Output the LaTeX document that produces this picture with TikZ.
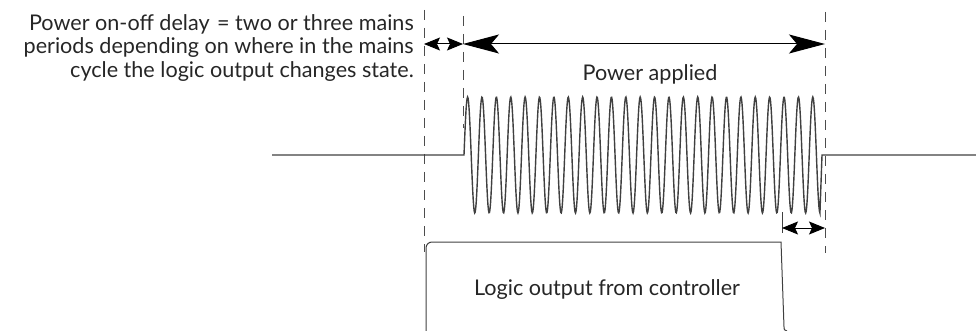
\documentclass[tikz,border=0pt]{standalone}
\usepackage{fontspec}
\setmainfont{Lato}
\usetikzlibrary{arrows.meta}

\begin{document}
\begin{tikzpicture}[x=1pt, y=-1pt,
  guide/.style={draw=black!70, line width=0.9pt, dash pattern=on 10pt off 8pt},
  wave/.style={draw=black!75, line width=1.4pt},
  outline/.style={draw=black!75, line width=1pt},
  dimsmall/.style={{Stealth[length=16pt,width=13pt,inset=3pt]}-{Stealth[length=16pt,width=13pt,inset=3pt]}, line width=1pt},
  dimbig/.style={{Stealth[length=36pt,width=19pt,inset=8pt]}-{Stealth[length=36pt,width=19pt,inset=8pt]}, line width=1pt},
  label/.style={font=\fontsize{21.6}{23.3}\selectfont, text=black!85, inner sep=0pt}
]
  \useasboundingbox (0,0) rectangle (976,331);

  % dashed timing guides
  \coordinate (g1t) at (424,10);
  \coordinate (g1b) at (424,252);
  \coordinate (g2t) at (463,16);
  \coordinate (g2b) at (463,128);
  \coordinate (g3t) at (825,12);
  \coordinate (g3b) at (825,253);
  \draw[guide] (g1t) -- (g1b);
  \draw[guide] (g2t) -- (g2b);
  \draw[guide] (g3t) -- (g3b);

  % mains waveform (24.75 cycles)
  \coordinate (mainsL) at (272,155);
  \coordinate (on)     at (464,155);
  \coordinate (off)    at (822,155);
  \coordinate (mainsR) at (976,155);
  \draw[wave] (mainsL) -- (on)
    -- plot[domain=0:24.75, samples=700] ({464+14.384*\x},{155-58*sin(360*\x)})
    -- (off) -- (mainsR);

  % delay and power dimension arrows
  \coordinate (d1) at (424,44);
  \coordinate (d2) at (463,44);
  \coordinate (d3) at (825,44);
  \draw[dimsmall] (d1) -- (d2);
  \draw[dimbig] (d2) -- (d3);

  \coordinate (tickT) at (782,212);
  \coordinate (tickB) at (782,233);
  \coordinate (e1) at (782,228);
  \coordinate (e2) at (825,228);
  \draw[outline] (tickT) -- (tickB);
  \draw[dimsmall] (e1) -- (e2);

  % logic output pulse
  \draw[outline, rounded corners=6pt] (426,331) -- (426,242)
    [sharp corners] -- (781,242) -- (784,327) .. controls (784,330) .. (787,331);

  \node[label, anchor=base] (applied) at (650,81) {Power applied};
  \node[label, anchor=base] (logic) at (607,295) {Logic output from controller};
  \node[label, align=right, anchor=north east] (delay) at (414,14.5)
    {Power on-off delay\kern2pt{} = two or three mains\\
     periods depending on where in the mains\\
     cycle the logic output changes state.};
\end{tikzpicture}
\end{document}
